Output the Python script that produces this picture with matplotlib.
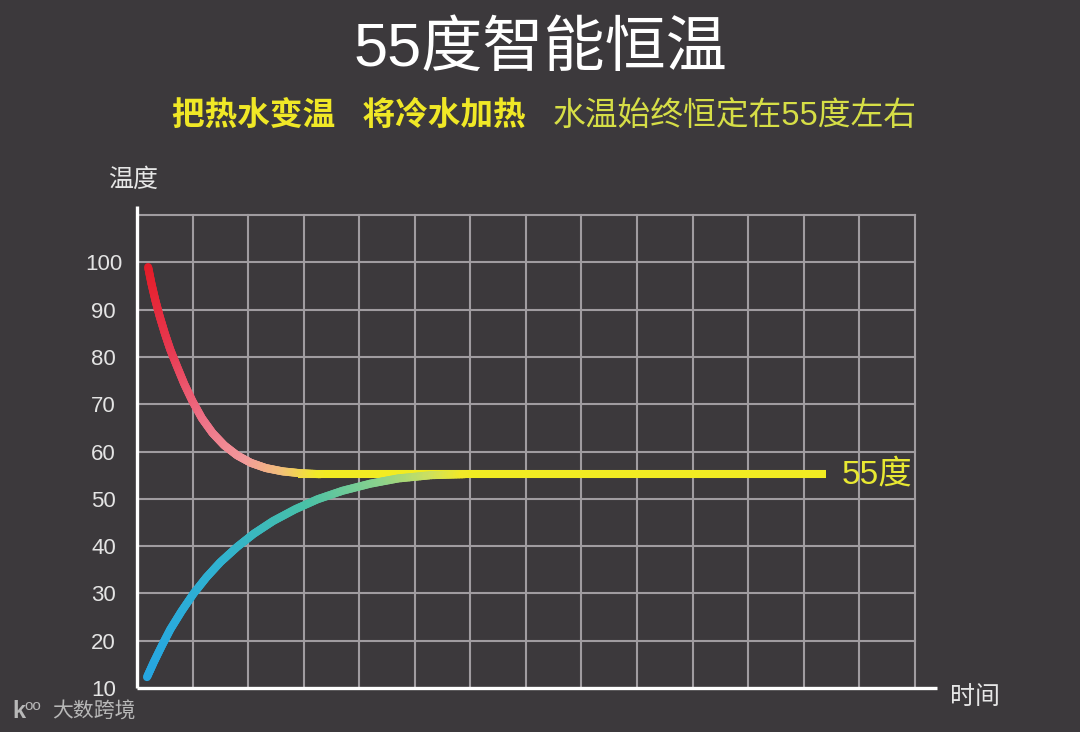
import numpy as np
import matplotlib
matplotlib.use("Agg")
import matplotlib.pyplot as plt
from matplotlib.collections import LineCollection
from matplotlib.colors import LinearSegmentedColormap

plt.rcParams['font.family'] = ['Liberation Sans', 'Noto Sans CJK SC', 'DejaVu Sans']

# ---------------- data ----------------
title = "55度智能恒温"
subtitle_bold = "把热水变温   将冷水加热"
subtitle_thin = "水温始终恒定在55度左右"
y_ticks = [10, 20, 30, 40, 50, 60, 70, 80, 90, 100]
y_label = "温度"
x_label = "时间"
level_label = "55度"

# hot water cooling (x in grid units of time)
red_x = [0.20, 0.26, 0.33, 0.41, 0.50, 0.60, 0.72, 0.85, 1.00, 1.17, 1.36,
         1.57, 1.80, 2.05, 2.32, 2.62, 2.95, 3.30]
red_y = [99.0, 95.5, 92.0, 88.5, 85.0, 81.5, 78.0, 74.3, 70.6, 67.0, 63.9,
         61.3, 59.2, 57.6, 56.5, 55.8, 55.4, 55.2]
# cold water heating
blue_x = [0.18, 0.30, 0.45, 0.60, 0.80, 1.02, 1.25, 1.50, 1.80, 2.10, 2.45,
          2.85, 3.25, 3.70, 4.20, 4.70, 5.30, 5.90]
blue_y = [12.3, 15.4, 19.0, 22.4, 26.2, 30.0, 33.4, 36.6, 39.8, 42.6, 45.3,
          47.8, 49.9, 51.7, 53.2, 54.3, 55.0, 55.2]
# constant level
level_x = [2.9, 12.4]
level_y = [55.2, 55.2]

# ---------------- style ----------------
BG = "#3c393c"
GRID = "#a09ca0"
W, H = 1080, 732

fig = plt.figure(figsize=(W / 100, H / 100), dpi=100, facecolor=BG)
ax = fig.add_axes([137 / W, (H - 688) / H, 800 / W, 482 / H])
ax.set_facecolor(BG)
ax.set_xlim(0, 14.4)
ax.set_ylim(10, 10 + 482 / 4.73)
for s in ax.spines.values():
    s.set_visible(False)

# grid
for v in range(1, 15):
    ax.plot([v, v], [10, 110], color=GRID, lw=1.5, zorder=1)
for yv in range(20, 111, 10):
    ax.plot([0, 14], [yv, yv], color=GRID, lw=1.5, zorder=1)
# axes lines
top = 10 + 482 / 4.73
ax.plot([0, 0], [10, top], color="white", lw=2.4, zorder=3, clip_on=False, solid_capstyle="butt")
ax.plot([0, 14.4], [10, 10], color="white", lw=2.4, zorder=3, clip_on=False, solid_capstyle="butt")

ax.set_xticks([])
ax.set_yticks(y_ticks)
ax.set_yticklabels([str(t) for t in y_ticks], fontsize=16, color="#e4e4e4")
ax.tick_params(axis="y", length=0, pad=24)
for lab in ax.get_yticklabels():
    lab.set_horizontalalignment("center")


def gradient_line(xs, ys, stops, lw):
    xs = np.asarray(xs, float)
    ys = np.asarray(ys, float)
    # subdivide each segment for a smooth colour transition
    px, py = [], []
    for i in range(len(xs) - 1):
        for f in np.linspace(0, 1, 12, endpoint=False):
            px.append(xs[i] + (xs[i + 1] - xs[i]) * f)
            py.append(ys[i] + (ys[i + 1] - ys[i]) * f)
    px.append(xs[-1]); py.append(ys[-1])
    px = np.array(px); py = np.array(py)
    dx = np.diff(px) * 55.6
    dy = np.diff(py) * 4.73
    s = np.concatenate([[0], np.cumsum(np.hypot(dx, dy))])
    t = s / s[-1]
    cmap = LinearSegmentedColormap.from_list("g", stops)
    pts = np.column_stack([px, py]).reshape(-1, 1, 2)
    segs = np.concatenate([pts[:-1], pts[1:]], axis=1)
    lc = LineCollection(segs, colors=cmap((t[:-1] + t[1:]) / 2), linewidths=lw,
                        capstyle="round", joinstyle="round", zorder=5)
    ax.add_collection(lc)


ax.plot(level_x, level_y, color="#f2ec22", lw=5.8, zorder=4, solid_capstyle="butt")
gradient_line(red_x, red_y,
              [(0.0, "#e41c28"), (0.3, "#e83a52"), (0.55, "#ee7086"),
               (0.75, "#f29a9c"), (0.88, "#f2c07a"), (1.0, "#f2ea28")], 5.8)
gradient_line(blue_x, blue_y,
              [(0.0, "#26a6e2"), (0.35, "#30b2d0"), (0.6, "#48c0a8"),
               (0.8, "#8cd28c"), (0.92, "#cce060"), (1.0, "#f2ea28")], 5.8)

# ---------------- texts ----------------
fig.text(540 / W, 1 - 50 / H, title, color="white", fontsize=44,
         ha="center", va="center")
fig.text(172 / W, 1 - 116 / H, subtitle_bold, color="#f0e826", fontsize=23.5,
         fontweight="bold", ha="left", va="center")
fig.text(553 / W, 1 - 116 / H, subtitle_thin, color="#d6de46", fontsize=23.6,
         ha="left", va="center")
fig.text(133 / W, 1 - 180 / H, y_label, color="#e6e6e6", fontsize=18,
         ha="center", va="center")
fig.text(975 / W, 1 - 697 / H, x_label, color="#e6e6e6", fontsize=18,
         ha="center", va="center")
fig.text(842 / W, 1 - 475 / H, level_label, color="#e8e832", fontsize=24,
         ha="left", va="center")

# watermark
fig.text(12 / W, 1 - 712 / H, "k", color="#b8b8b8", fontsize=17, fontweight="bold",
         ha="left", va="center")
fig.text(24 / W, 1 - 706 / H, "oo", color="#b8b8b8", fontsize=11,
         ha="left", va="center")
fig.text(52 / W, 1 - 712 / H, "大数跨境", color="#b8b8b8", fontsize=15,
         ha="left", va="center")

fig.savefig("out.png", dpi=100, facecolor=BG)
